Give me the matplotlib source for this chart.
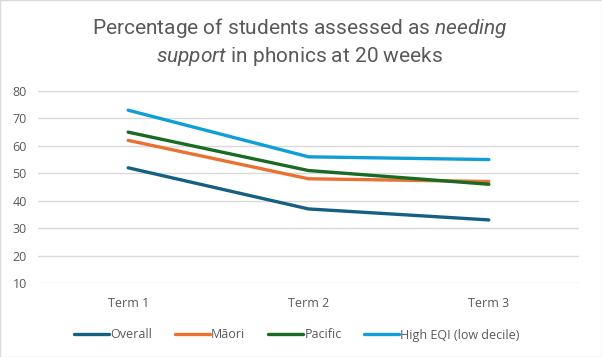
import numpy as np
import matplotlib.pyplot as plt

plt.rcParams['font.family'] = ['Open Sans', 'DejaVu Sans']
plt.rcParams['mathtext.fontset'] = 'custom'
plt.rcParams['mathtext.rm'] = 'Roboto'
plt.rcParams['mathtext.it'] = 'Roboto:italic'

terms = ['Term 1', 'Term 2', 'Term 3']
overall = [52, 37, 33]
maori = [62, 48, 47]
pacific = [65, 51, 46]
high_eqi = [73, 56, 55]
names = ['Overall', 'Māori', 'Pacific', 'High EQI (low decile)']
colours = ['#156082', '#E97132', '#196B24', '#0F9ED5']

fig = plt.figure(figsize=(6.02, 3.57), dpi=100)
ax = fig.add_axes([38/602, 1-283/357, (579-38)/602, (283-91)/357])

x = np.arange(len(terms))
for vals, name, c in zip([overall, maori, pacific, high_eqi], names, colours):
    ax.plot(x, vals, color=c, lw=2.4, label=name, solid_capstyle='round', solid_joinstyle='round')

ax.set_xlim(-0.5, 2.5)
ax.set_ylim(10, 80)
ax.set_yticks(range(10, 81, 10))
ax.set_xticks(x)
ax.set_xticklabels(terms)
ax.grid(axis='y', color='#d9d9d9', lw=1)
ax.set_axisbelow(True)
for s in ax.spines.values():
    s.set_visible(False)
ax.tick_params(length=0, labelsize=9, colors='#595959', pad=8)
ax.tick_params(axis='x', pad=10)

fig.text(300/602, 1-42/357,
         'Percentage of students assessed as $\\it{needing}$\n$\\it{support}$ in phonics at 20 weeks',
         ha='center', va='center', fontsize=15, color='#595959', linespacing=1.35,
         family=['Roboto', 'DejaVu Sans'])

fig.legend(loc='center', bbox_to_anchor=(297/602, 1-335/357), ncol=4, frameon=False,
           fontsize=9, handlelength=2.8, handletextpad=0.1, columnspacing=1.8,
           labelcolor='#595959')

fig.patches.append(plt.Rectangle((0, 0), 1, 1, transform=fig.transFigure,
                                 fill=False, edgecolor='#d9d9d9', lw=1))
fig.savefig('out.png', dpi=100)
